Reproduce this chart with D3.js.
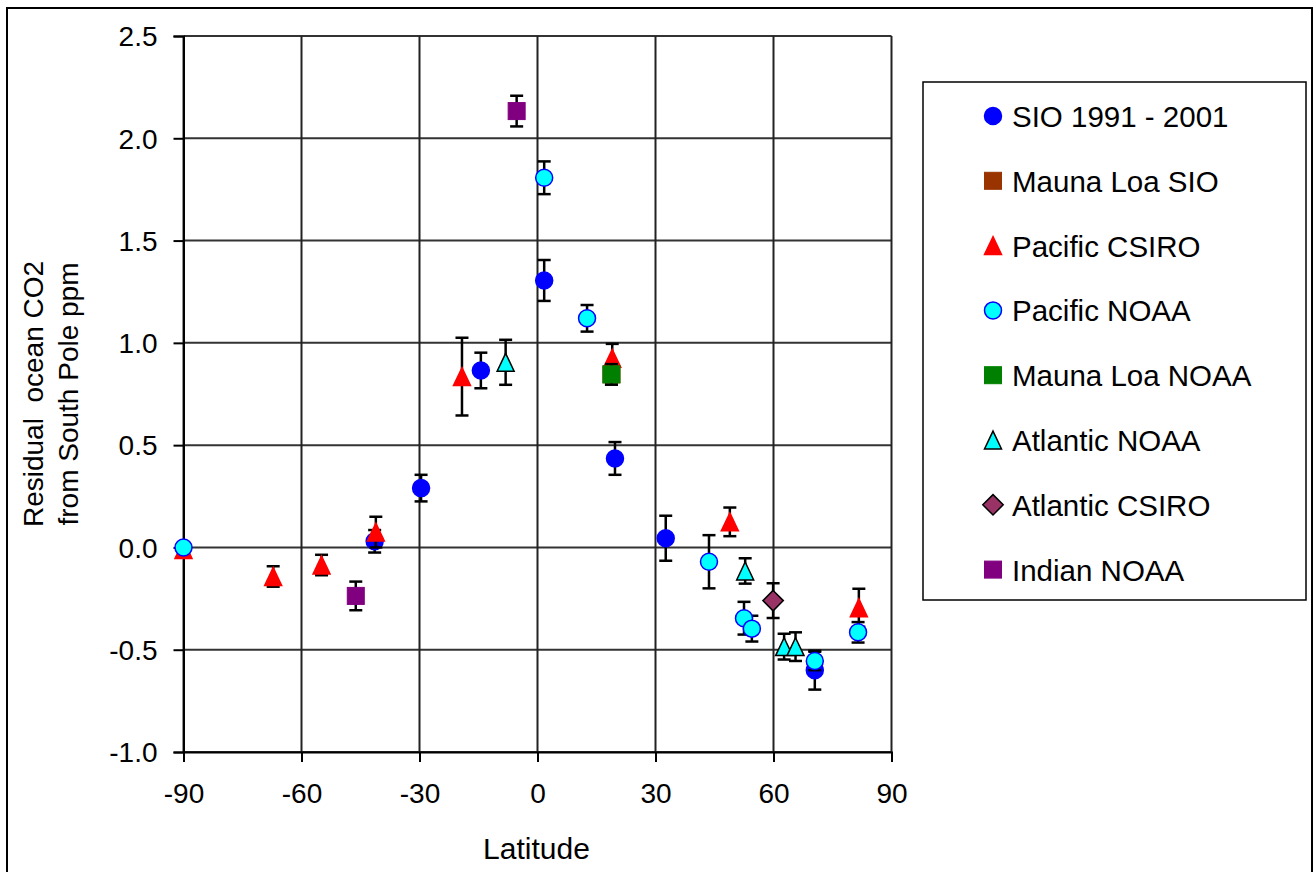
<!DOCTYPE html>
<html lang="en">
<head>
<meta charset="UTF-8">
<title>Residual ocean CO2</title>
<script src="https://cdn.jsdelivr.net/npm/d3@7"></script>
<style>
	body { margin: 0; background: #fff; font-family: "Liberation Sans", Arial, sans-serif; }
	.tick text { font-size: 28px; fill: #000; }
	.legend text { font-size: 29.5px; }
</style>
</head>
<body>
<div id="chart"></div>
<script>
// series data: [latitude, value, error]
var sioData = [[-41.4, 0.03, 0.055], [-29.6, 0.29, 0.065], [-14.4, 0.865, 0.087], [1.7, 1.305, 0.1],
	[19.7, 0.435, 0.08], [32.6, 0.045, 0.11], [70.5, -0.60, 0.095]];
var maunaLoaSioData = [[18.8, 0.846, 0.05]];
var pacificCsiroData = [[-90, -0.01, 0], [-67.2, -0.142, 0.05], [-54.9, -0.086, 0.05], [-41.1, 0.075, 0.075],
	[-19.2, 0.835, 0.19], [19.0, 0.925, 0.07], [48.9, 0.125, 0.07], [81.7, -0.295, 0.093]];
var pacificNoaaData = [[-90, 0.0, 0], [1.7, 1.807, 0.08], [12.6, 1.12, 0.065], [43.6, -0.07, 0.13],
	[52.5, -0.346, 0.08], [54.5, -0.397, 0.063], [70.5, -0.555, 0.045], [81.5, -0.415, 0.05]];
var maunaLoaNoaaData = [[18.8, 0.846, 0.05]];
var atlanticNoaaData = [[-8.1, 0.905, 0.11], [52.8, -0.115, 0.062], [62.7, -0.485, 0.063], [65.6, -0.485, 0.07]];
var atlanticCsiroData = [[59.9, -0.26, 0.085]];
var indianNoaaData = [[-46.2, -0.237, 0.07], [-5.3, 2.133, 0.075]];

var xTicks = [-90, -60, -30, 0, 30, 60, 90];
var yTicks = [-1.0, -0.5, 0.0, 0.5, 1.0, 1.5, 2.0, 2.5];

var series = [
	{name: 'SIO 1991 - 2001', data: sioData, shape: 'circle', fill: '#0000ff', stroke: '#0000ff'},
	{name: 'Mauna Loa SIO', data: maunaLoaSioData, shape: 'square', fill: '#993300', stroke: '#993300'},
	{name: 'Pacific CSIRO', data: pacificCsiroData, shape: 'triangle', fill: '#ff0000', stroke: '#ff0000'},
	{name: 'Pacific NOAA', data: pacificNoaaData, shape: 'circle', fill: '#00ffff', stroke: '#0000ff'},
	{name: 'Mauna Loa NOAA', data: maunaLoaNoaaData, shape: 'square', fill: '#008000', stroke: '#008000'},
	{name: 'Atlantic NOAA', data: atlanticNoaaData, shape: 'triangle', fill: '#00ffff', stroke: '#000000'},
	{name: 'Atlantic CSIRO', data: atlanticCsiroData, shape: 'diamond', fill: '#993366', stroke: '#000000'},
	{name: 'Indian NOAA', data: indianNoaaData, shape: 'square', fill: '#800080', stroke: '#800080'}
];

var W = 1314, H = 872;
var plot = {left: 183.5, right: 891.5, top: 36, bottom: 752};

var svg = d3.select('#chart').append('svg')
	.attr('width', W)
	.attr('height', H);

svg.append('rect')
	.attr('x', 7).attr('y', 8)
	.attr('width', 1305).attr('height', 875)
	.attr('fill', '#fff')
	.attr('stroke', '#000')
	.attr('stroke-width', 2);

var x = d3.scaleLinear().domain([-90, 90]).range([plot.left, plot.right]);
var y = d3.scaleLinear().domain([-1.0, 2.5]).range([plot.bottom, plot.top]);

// hyphen minus like the original
function fmt(f) {
	return function (d) { return f(d).replace('\u2212', '-'); };
}

// grid
svg.append('g').selectAll('line')
	.data(yTicks).enter().append('line')
	.attr('x1', plot.left).attr('x2', plot.right)
	.attr('y1', function (d) { return y(d); })
	.attr('y2', function (d) { return y(d); })
	.attr('stroke', '#333').attr('stroke-width', 2);

svg.append('g').selectAll('line')
	.data(xTicks).enter().append('line')
	.attr('x1', function (d) { return x(d); })
	.attr('x2', function (d) { return x(d); })
	.attr('y1', plot.top).attr('y2', plot.bottom)
	.attr('stroke', '#222').attr('stroke-width', 2);

// axes
var yAxis = svg.append('g')
	.attr('transform', 'translate(' + plot.left + ',0)')
	.call(d3.axisLeft(y).tickValues(yTicks).tickFormat(fmt(d3.format('.1f'))).tickSize(10).tickPadding(16));
var xAxis = svg.append('g')
	.attr('transform', 'translate(0,' + plot.bottom + ')')
	.call(d3.axisBottom(x).tickValues(xTicks).tickFormat(fmt(d3.format('d'))).tickSize(10).tickPadding(21));

[xAxis, yAxis].forEach(function (a) {
	a.select('.domain').attr('stroke', '#000').attr('stroke-width', 2);
	a.selectAll('.tick line').attr('stroke', '#000').attr('stroke-width', 2);
	a.selectAll('.tick text').style('font-family', '"Liberation Sans", Arial, sans-serif').attr('fill', '#000');
});
yAxis.selectAll('.tick text').attr('dy', '0.35em');

svg.append('text')
	.attr('x', (plot.left + plot.right) / 2 - 1)
	.attr('y', 859)
	.attr('text-anchor', 'middle')
	.style('font-size', '30px')
	.text('Latitude');

var yTitle = svg.append('text')
	.attr('transform', 'translate(43,' + ((plot.top + plot.bottom) / 2) + ') rotate(-90)')
	.attr('text-anchor', 'middle')
	.style('font-size', '28px');
yTitle.append('tspan').attr('x', 0).attr('y', 0).attr('xml:space', 'preserve').text('Residual  ocean CO2');
yTitle.append('tspan').attr('x', 0).attr('y', 35).text('from South Pole ppm');

function drawMarker(g, shape, cx, cy, s, fill, stroke) {
	if (shape === 'circle') {
		g.append('circle').attr('cx', cx).attr('cy', cy).attr('r', s * 0.5)
			.attr('fill', fill).attr('stroke', stroke).attr('stroke-width', 1.5);
	} else if (shape === 'square') {
		g.append('rect').attr('x', cx - s / 2).attr('y', cy - s / 2).attr('width', s).attr('height', s)
			.attr('fill', fill).attr('stroke', stroke).attr('stroke-width', 1);
	} else if (shape === 'triangle') {
		var h = s * 1.05;
		g.append('path')
			.attr('d', 'M' + cx + ',' + (cy - h / 2) + 'L' + (cx + s / 2) + ',' + (cy + h / 2) + 'L' + (cx - s / 2) + ',' + (cy + h / 2) + 'Z')
			.attr('fill', fill).attr('stroke', stroke).attr('stroke-width', 1.5);
	} else if (shape === 'diamond') {
		var r = s * 0.6;
		g.append('path')
			.attr('d', 'M' + cx + ',' + (cy - r) + 'L' + (cx + r) + ',' + cy + 'L' + cx + ',' + (cy + r) + 'L' + (cx - r) + ',' + cy + 'Z')
			.attr('fill', fill).attr('stroke', stroke).attr('stroke-width', 1.5);
	}
}

// series: error bars then markers
var capW = 6.5;
series.forEach(function (s) {
	var g = svg.append('g');
	s.data.forEach(function (d) {
		if (d[2] > 0) {
			var px = x(d[0]), y1 = y(d[1] + d[2]), y2 = y(d[1] - d[2]);
			g.append('line').attr('x1', px).attr('x2', px).attr('y1', y1).attr('y2', y2)
				.attr('stroke', '#000').attr('stroke-width', 2.5);
			[y1, y2].forEach(function (yy) {
				g.append('line').attr('x1', px - capW).attr('x2', px + capW).attr('y1', yy).attr('y2', yy)
					.attr('stroke', '#000').attr('stroke-width', 2.5);
			});
		}
	});
	s.data.forEach(function (d) {
		drawMarker(g, s.shape, x(d[0]), y(d[1]), 17, s.fill, s.stroke);
	});
});

// legend
var legend = svg.append('g').attr('class', 'legend');
legend.append('rect')
	.attr('x', 923).attr('y', 82)
	.attr('width', 383).attr('height', 518)
	.attr('fill', '#fff').attr('stroke', '#000').attr('stroke-width', 1.5);

series.forEach(function (s, i) {
	var cy = 116 + i * 64.8;
	drawMarker(legend, s.shape, 993, cy, 17, s.fill, s.stroke);
	legend.append('text')
		.attr('x', 1012)
		.attr('y', cy + 11)
		.text(s.name);
});
</script>
</body>
</html>
